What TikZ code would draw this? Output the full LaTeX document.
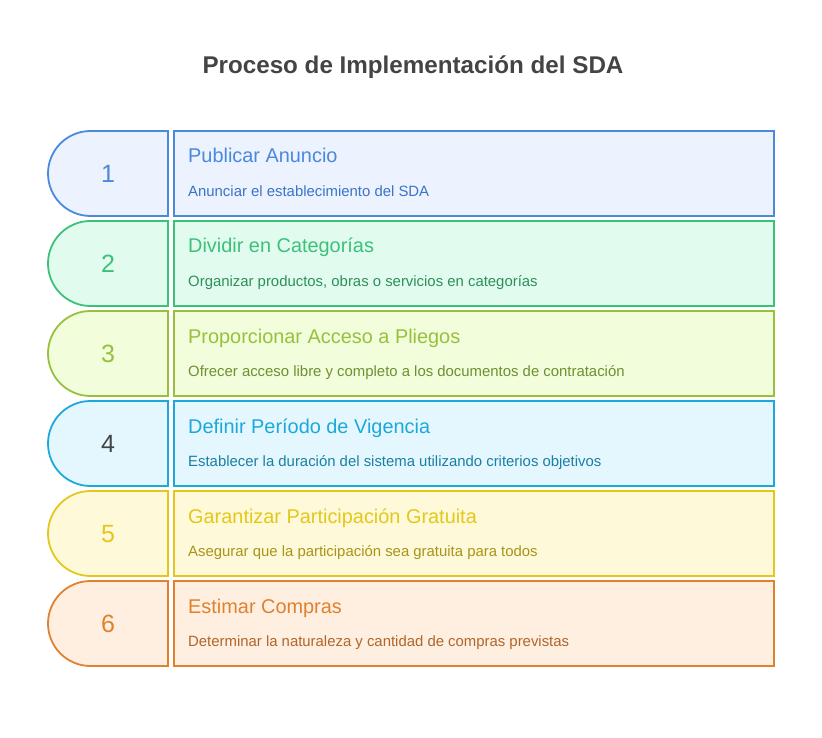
\documentclass[tikz,border=0pt]{standalone}
\usepackage{fontspec}
\setmainfont{Liberation Sans}
\definecolor{titlec}{HTML}{444444}
\definecolor{sA}{HTML}{4A89DC}\definecolor{fA}{HTML}{ECF2FE}\definecolor{dA}{HTML}{3A74C8}
\definecolor{sB}{HTML}{3CC17A}\definecolor{fB}{HTML}{E1FCEF}\definecolor{dB}{HTML}{2E8F5A}
\definecolor{sC}{HTML}{97C13C}\definecolor{fC}{HTML}{F2FDDC}\definecolor{dC}{HTML}{6E9030}
\definecolor{sD}{HTML}{1DA8DC}\definecolor{fD}{HTML}{E5F7FE}\definecolor{dD}{HTML}{1A7FA3}
\definecolor{sE}{HTML}{E3C81B}\definecolor{fE}{HTML}{FEF9D9}\definecolor{dE}{HTML}{A8941A}
\definecolor{sF}{HTML}{E0812E}\definecolor{fF}{HTML}{FFEFE1}\definecolor{dF}{HTML}{B0652A}
\tikzset{
  tabshape/.style={line width=1.8pt},
  stepbox/.style={draw, line width=1.8pt, minimum width=600pt, minimum height=85pt, inner sep=0pt, outer sep=0pt},
  numtext/.style={anchor=base, font=\fontsize{25}{28}\selectfont, inner sep=0pt},
  headtext/.style={anchor=base west, font=\fontsize{19.9}{23}\selectfont, inner sep=0pt},
  desctext/.style={anchor=base west, font=\fontsize{14.9}{17}\selectfont, inner sep=0pt},
}
\begin{document}
\begin{tikzpicture}[x=1pt,y=-1pt]
\useasboundingbox (0,0) rectangle (822,738);
\node[font=\bfseries\fontsize{24.2}{28}\selectfont, text=titlec, anchor=base] (title) at (413,74) {Proceso de Implementación del SDA};
\foreach \i/\c/\numc/\head/\desc in {
  1/A/sA/{Publicar Anuncio}/{Anunciar el establecimiento del SDA},
  2/B/sB/{Dividir en Categorías}/{Organizar productos, obras o servicios en categorías},
  3/C/sC/{Proporcionar Acceso a Pliegos}/{Ofrecer acceso libre y completo a los documentos de contratación},
  4/D/titlec/{Definir Período de Vigencia}/{Establecer la duración del sistema utilizando criterios objetivos},
  5/E/sE/{Garantizar Participación Gratuita}/{Asegurar que la participación sea gratuita para todos},
  6/F/sF/{Estimar Compras}/{Determinar la naturaleza y cantidad de compras previstas}}{
  \pgfmathsetmacro{\t}{131+90*(\i-1)}
  \draw[tabshape, draw=s\c, fill=f\c] (168,\t) -- (90.5,\t) arc[start angle=270, end angle=90, radius=42.5] -- (168,\t+85) -- cycle;
  \node[stepbox, draw=s\c, fill=f\c] (box\i) at (474,\t+42.5) {};
  \node[numtext, text=\numc] (num\i) at (108,\t+51.3) {\i};
  \node[headtext, text=s\c] (head\i) at (188,\t+32) {\head};
  \node[desctext, text=d\c] (desc\i) at (188,\t+65.5) {\desc};
}
\end{tikzpicture}
\end{document}
